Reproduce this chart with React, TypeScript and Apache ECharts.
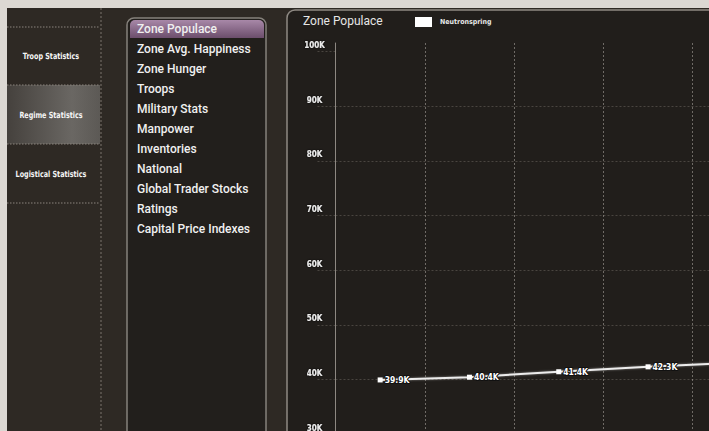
import React, { useEffect, useRef } from "react";
import * as echarts from "echarts";

const categories = ["Turn 1", "Turn 2", "Turn 3", "Turn 4", "Turn 5"];
const populace = [39900, 40400, 41400, 42300, 43100];
const seriesName = "Neutronspring";
const yTicks = [30000, 40000, 50000, 60000, 70000, 80000, 90000, 100000];
const sideItems = ["Troop Statistics", "Regime Statistics", "Logistical Statistics"];
const listItems = [
  "Zone Populace",
  "Zone Avg. Happiness",
  "Zone Hunger",
  "Troops",
  "Military Stats",
  "Manpower",
  "Inventories",
  "National",
  "Global Trader Stocks",
  "Ratings",
  "Capital Price Indexes",
];
const chartTitle = "Zone Populace";

const NARROW = "'Liberation Sans Narrow', 'DejaVu Sans Condensed', 'Roboto', sans-serif";
const UI = "Roboto, 'Liberation Sans', sans-serif";

export default function App() {
  const ref = useRef<HTMLDivElement>(null);
  useEffect(() => {
    if (!ref.current) return;
    const chart = echarts.init(ref.current, null, { renderer: "svg" });
    const graphics: any[] = [];
    graphics.push({ type: "rect", z: -20, shape: { x: 7, y: 8, width: 820, height: 460 }, style: { fill: "#2e2924" } });
    graphics.push({
      type: "rect", z: -19, shape: { x: 7, y: 85, width: 93, height: 59 },
      style: { fill: new echarts.graphic.LinearGradient(0, 0, 1, 0, [
        { offset: 0, color: "#45413d" }, { offset: 0.7, color: "#6a6763" }, { offset: 1, color: "#5c5955" },
      ]) },
    });
    [27, 85, 144, 203].forEach((y) => {
      graphics.push({ type: "line", z: -18, shape: { x1: 7, y1: y, x2: 100, y2: y }, style: { stroke: "#8a847d", lineWidth: 1, lineDash: [1.5, 1.5] } });
    });
    graphics.push({ type: "line", z: -18, shape: { x1: 101, y1: 8, x2: 101, y2: 460 }, style: { stroke: "#7a746d", lineWidth: 1, lineDash: [2, 2] } });
    sideItems.forEach((t, i) => {
      graphics.push({
        type: "text", z: -5, x: 51, y: 56 + i * 59, scaleX: 0.84,
        style: { text: t, fill: "#f6f6f6", font: `bold 8.5px ${NARROW}`, align: "center", verticalAlign: "middle", shadowColor: "#000", shadowBlur: 2, shadowOffsetX: 1, shadowOffsetY: 1 },
      });
    });
    graphics.push({ type: "rect", z: -17, shape: { x: 127, y: 18, width: 139, height: 440, r: [7, 7, 0, 0] }, style: { fill: "#221f1c", stroke: "#85817b", lineWidth: 1.5 } });
    graphics.push({
      type: "rect", z: -16, shape: { x: 130, y: 20, width: 134, height: 18, r: [5, 5, 0, 0] },
      style: { fill: new echarts.graphic.LinearGradient(0, 0, 0, 1, [
        { offset: 0, color: "#a888a8" }, { offset: 1, color: "#6c4e6c" },
      ]) },
    });
    listItems.forEach((t, i) => {
      graphics.push({
        type: "text", z: -5, x: 137, y: 29 + i * 20,
        style: { text: t, fill: "#f0f0f0", font: `500 12px ${UI}`, align: "left", verticalAlign: "middle", shadowColor: "#000", shadowBlur: 2, shadowOffsetX: 1, shadowOffsetY: 1 },
      });
    });
    graphics.push({ type: "rect", z: -17, shape: { x: 287, y: 10, width: 540, height: 460, r: [8, 0, 0, 0] }, style: { fill: "#211e1b", stroke: "#8e8983", lineWidth: 1.5 } });

    const lastIdx = populace.length - 1;
    chart.setOption({
      animation: false,
      title: {
        text: chartTitle, left: 303, top: 15, padding: 0,
        textStyle: { color: "#e6e6e6", fontSize: 12, fontWeight: "normal", fontFamily: UI },
      },
      legend: {
        left: 415, top: 17, padding: 0, data: [seriesName], icon: "rect", itemWidth: 17, itemHeight: 10, itemGap: 10,
        itemStyle: { color: "#ffffff" },
        textStyle: { color: "#e8e8e8", fontSize: 7, fontWeight: "bold", fontFamily: NARROW, padding: [0, 0, 0, 3] },
      },
      graphic: graphics,
      grid: { left: 335.5, top: 43, width: 446.5, bottom: 6, containLabel: false },
      xAxis: {
        type: "category", data: categories, boundaryGap: true,
        axisLine: { show: false }, axisTick: { show: false }, axisLabel: { show: false },
        splitLine: { show: true, lineStyle: { color: "rgba(190,184,178,0.5)", type: [2, 2], width: 1 } },
      },
      yAxis: {
        type: "value", min: 30000, max: 101600, interval: 10000,
        axisLine: { show: true, lineStyle: { color: "#8d8882", width: 1 } },
        axisTick: { show: true, length: 18, customValues: yTicks, lineStyle: { color: "rgba(150,142,134,0.35)", type: [2, 2] } },
        axisLabel: {
          customValues: yTicks, align: "center", margin: 21, verticalAlign: "bottom", lineHeight: 12,
          color: "#ececec", fontSize: 8, fontWeight: "bold", fontFamily: NARROW,
          textShadowColor: "#000", textShadowBlur: 2,
          formatter: (v: number) => `${v / 1000}K`,
        },
        splitLine: { show: true, showMaxLine: false, lineStyle: { color: "rgba(150,142,134,0.35)", type: [2, 2] } },
      },
      series: [
        {
          name: seriesName, type: "line",
          data: populace.map((v, i) => (i === lastIdx ? { value: v, label: { show: false } } : v)),
          symbol: "rect", symbolSize: 5, showSymbol: true,
          itemStyle: { color: "#ffffff" },
          lineStyle: { color: "#ececec", width: 2, shadowColor: "rgba(255,255,255,0.4)", shadowBlur: 2 },
          label: {
            show: true, position: "right", distance: 2,
            color: "#ffffff", fontSize: 8.5, fontWeight: "bold", fontFamily: NARROW,
            textBorderColor: "#111", textBorderWidth: 2,
            formatter: (p: any) => `${(p.value / 1000).toFixed(1)}K`,
          },
        },
      ],
    });
    return () => chart.dispose();
  }, []);
  return (
    <div style={{ position: "fixed", left: 0, top: 0, width: "100vw", height: "100vh", overflow: "hidden", background: "#dcd8d3" }}>
      <div ref={ref} style={{ width: 800, height: 440 }} />
    </div>
  );
}
